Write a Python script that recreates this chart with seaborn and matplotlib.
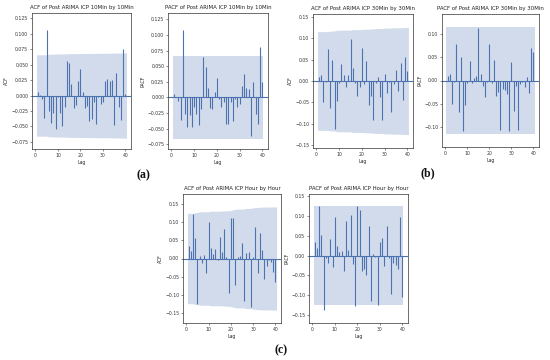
import numpy as np
import matplotlib
matplotlib.use("Agg")
import matplotlib.pyplot as plt
import seaborn as sns

# ---------------- data ----------------
lags = list(range(1, 41))

acf_10min = [0.005, 0.001, -0.005, -0.036, 0.107, -0.025, -0.045, -0.028, -0.055, -0.003,
             -0.028, -0.050, -0.018, 0.056, 0.053, 0.018, -0.021, -0.016, 0.024, 0.043,
             0.005, -0.020, -0.017, -0.042, -0.038, -0.011, -0.046, -0.002, -0.014, -0.010,
             0.023, 0.026, 0.024, 0.025, -0.047, 0.036, -0.018, -0.040, 0.076, 0.003]
pacf_10min = [0.005, 0.001, -0.006, -0.036, 0.108, -0.027, -0.047, -0.028, -0.048, -0.016,
              -0.026, -0.044, -0.019, 0.065, 0.049, 0.015, -0.017, -0.018, 0.009, 0.031,
              -0.003, -0.016, -0.008, -0.043, -0.043, -0.008, -0.037, -0.003, -0.015, -0.011,
              0.019, 0.038, 0.015, 0.013, -0.062, 0.025, -0.026, -0.042, 0.081, 0.025]
acf_30min = [0.010, 0.013, -0.048, -0.003, 0.075, -0.062, 0.049, -0.113, -0.047, -0.005,
             0.040, 0.013, -0.015, 0.015, 0.097, 0.030, -0.005, -0.036, -0.015, 0.077,
             -0.008, 0.047, -0.056, -0.036, -0.092, -0.005, 0.010, -0.038, -0.092, 0.016,
             -0.028, -0.002, -0.073, -0.008, 0.026, -0.024, 0.042, -0.045, 0.057, 0.024]
pacf_30min = [0.010, 0.013, -0.050, -0.003, 0.078, -0.068, 0.050, -0.110, -0.053, -0.005,
              0.043, -0.005, 0.005, 0.010, 0.113, 0.015, -0.012, -0.036, -0.003, 0.079,
              -0.005, 0.044, -0.033, -0.025, -0.108, -0.018, -0.020, -0.030, -0.110, 0.040,
              -0.066, -0.012, -0.108, -0.008, -0.003, -0.015, 0.008, -0.027, 0.070, 0.061]
acf_hour = [0.035, 0.020, 0.123, 0.058, -0.125, 0.008, -0.012, 0.010, -0.040, 0.100,
            0.030, 0.012, 0.027, -0.005, 0.060, 0.018, 0.082, 0.003, -0.095, 0.112,
            0.112, -0.073, 0.003, 0.008, 0.042, -0.118, 0.015, 0.018, -0.135, 0.003,
            0.088, -0.040, 0.070, 0.023, -0.057, -0.020, -0.005, -0.010, -0.037, -0.065]
pacf_hour = [0.035, 0.018, 0.125, 0.053, -0.137, -0.005, -0.020, 0.043, -0.030, 0.097,
             0.024, 0.010, 0.012, -0.038, 0.088, 0.013, 0.102, -0.022, -0.127, 0.125,
             0.115, -0.040, -0.035, -0.050, 0.075, -0.115, 0.005, -0.003, -0.125, 0.035,
             0.045, -0.027, 0.075, -0.005, -0.098, -0.020, -0.025, -0.033, 0.097, -0.105]

nobs_10min = 882
nobs_30min = 290
nobs_hour = 246

titles = ["ACF of Post ARIMA ICP 10Min by 10Min", "PACF of Post ARIMA ICP 10Min by 10Min",
          "ACF of Post ARIMA ICP 30Min by 30Min", "PACF of Post ARIMA ICP 30Min by 30Min",
          "ACF of Post ARIMA ICP Hour by Hour", "PACF of Post ARIMA ICP Hour by Hour"]
ylabels = ["ACF", "PACF", "ACF", "PACF", "ACF", "PACF"]
panel_labels = ["(a)", "(b)", "(c)"]

# ---------------- style ----------------
sns.set_theme(style="ticks")
plt.rcParams["font.family"] = ["DejaVu Sans"]
plt.rcParams.update({
    "axes.edgecolor": "#333333",
    "axes.linewidth": 0.5,
    "xtick.major.width": 0.4,
    "ytick.major.width": 0.4,
    "xtick.major.size": 1.5,
    "ytick.major.size": 1.5,
    "xtick.major.pad": 1.2,
    "ytick.major.pad": 1.2,
    "xtick.labelsize": 3.3,
    "ytick.labelsize": 3.3,
    "xtick.color": "#333333",
    "ytick.color": "#333333",
    "text.color": "#222222",
    "axes.labelcolor": "#222222",
})

W, H = 550, 360
fig = plt.figure(figsize=(W / 100, H / 100), dpi=100)
fig.patch.set_facecolor("white")

# axes boxes in pixels: left, top, right, bottom
boxes = [(32, 13, 131, 149), (168, 13, 268, 149),
         (313, 14, 413, 148), (442, 14, 539, 147),
         (183, 194, 281, 323), (309, 194, 408, 323)]

series = [(acf_10min, "acf", nobs_10min), (pacf_10min, "pacf", nobs_10min),
          (acf_30min, "acf", nobs_30min), (pacf_30min, "pacf", nobs_30min),
          (acf_hour, "acf", nobs_hour), (pacf_hour, "pacf", nobs_hour)]

blue = sns.color_palette()[0]

for i, ((vals, kind, nobs), box) in enumerate(zip(series, boxes)):
    l, t, r, b = box
    ax = fig.add_axes([l / W, 1 - b / H, (r - l) / W, (b - t) / H])
    v = np.asarray(vals, dtype=float)
    x = np.asarray(lags, dtype=float)
    # confidence band as statsmodels computes it
    if kind == "acf":
        var = np.ones(len(v)) / nobs
        var[1:] *= 1 + 2 * np.cumsum(v[:-1] ** 2)
        conf = 1.959964 * np.sqrt(var)
    else:
        conf = np.full(len(v), 1.959964 / np.sqrt(nobs))
    xb = x.copy()
    xb[0] -= 0.5
    xb[-1] += 0.5
    ax.fill_between(xb, -conf, conf, color=blue, alpha=0.25, linewidth=0)
    ax.vlines(x, 0, v, color=blue, linewidth=0.8)
    ax.axhline(0, color=blue, linewidth=0.8)
    lo = 1.25 * min(v.min(), (-conf).min())
    hi = 1.25 * max(v.max(), conf.max())
    ax.set_ylim(lo, hi)
    ax.set_xticks([0, 10, 20, 30, 40])
    ax.set_title(titles[i], fontsize=3.9, pad=3)
    ax.set_xlabel("Lag", fontsize=3.3, labelpad=1.5)
    ax.set_ylabel(ylabels[i], fontsize=3.3, labelpad=1.5)
    for s in ax.spines.values():
        s.set_visible(True)

lab_kw = dict(fontsize=8.5, fontweight="bold", family=["Liberation Serif"],
              ha="center", va="center", color="#111111")
fig.text(143 / W, 1 - 175 / H, panel_labels[0], **lab_kw)
fig.text(428 / W, 1 - 173 / H, panel_labels[1], **lab_kw)
fig.text(281 / W, 1 - 350 / H, panel_labels[2], **lab_kw)

fig.savefig("out.png", dpi=100)
